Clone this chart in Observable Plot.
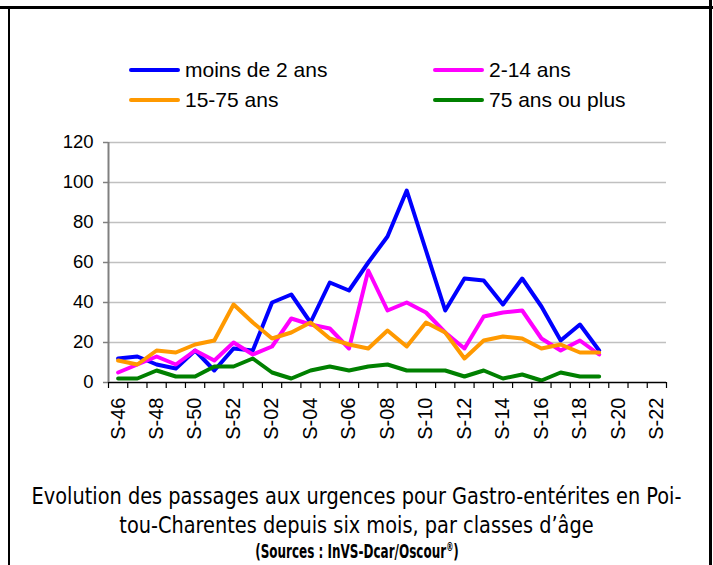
<!DOCTYPE html>
<html>
<head>
<meta charset="utf-8">
<script src="https://cdn.jsdelivr.net/npm/d3@7"></script>
<script src="https://cdn.jsdelivr.net/npm/@observablehq/plot@0.6"></script>
<style>
  html, body { margin: 0; padding: 0; background: #fff; }
  #wrap { position: relative; width: 713px; height: 565px; overflow: hidden; background: #fff; font-family: "Liberation Sans", Arial, sans-serif; }
  .bd { position: absolute; background: #000; }
  .leg { position: absolute; font-size: 21px; line-height: 21px; color: #000; white-space: nowrap; }
  .sw { position: absolute; height: 4px; border-radius: 2px; }
  #chart { position: absolute; left: 0; top: 120px; }
  #cap { position: absolute; left: 0; width: 713px; text-align: center; top: 482px; font-family: "Liberation Sans Narrow", "DejaVu Sans Condensed", sans-serif; font-size: 23px; line-height: 29px; color: #000; transform: scaleX(0.935); transform-origin: 356.5px 0; white-space: nowrap; }
  #src { position: absolute; left: 0; width: 713px; text-align: center; top: 541px; height: 21px; font-family: "Liberation Sans Narrow", "DejaVu Sans Condensed", sans-serif; font-weight: bold; font-size: 20px; line-height: 21px; transform: scaleX(0.667); transform-origin: 358px 0; white-space: nowrap; }
  #src sup { font-size: 12px; line-height: 0; vertical-align: 7px; }
</style>
</head>
<body>
<div id="wrap">
  <div class="bd" style="left:0;top:6px;width:713px;height:3px"></div>
  <div class="bd" style="left:8px;top:6px;width:2px;height:560px"></div>
  <div class="bd" style="left:709px;top:0;width:3px;height:565px"></div>
  <div id="legend"></div>
  <div id="chart"></div>
  <div id="cap">Evolution des passages aux urgences pour Gastro-entérites en Poi-<br>tou-Charentes depuis six mois, par classes d’âge</div>
  <div id="src">(Sources : InVS-Dcar/Oscour<sup>®</sup>)</div>
</div>
<script>
// Week categories (x axis)
const weeks = ["S-46","S-47","S-48","S-49","S-50","S-51","S-52",
  "S-01","S-02","S-03","S-04","S-05","S-06","S-07","S-08","S-09","S-10",
  "S-11","S-12","S-13","S-14","S-15","S-16","S-17","S-18","S-19","S-20","S-21","S-22"];

// Series names and colours
const seriesNames = ["moins de 2 ans", "2-14 ans", "15-75 ans", "75 ans ou plus"];
const seriesColors = ["#0000ff", "#ff00ff", "#ff9900", "#008000"];

// Values S-46 .. S-19
const moins2 = [12,13,9,7,16,6,17,16,40,44,30,50,46,60,73,96,66,36,52,51,39,52,38,21,29,16];
const ans2_14 = [5,9,13,9,16,11,20,14,18,32,29,27,17,56,36,40,35,25,17,33,35,36,22,16,21,14];
const ans15_75 = [11,9,16,15,19,21,39,30,22,25,30,22,19,17,26,18,30,25,12,21,23,22,17,19,15,15];
const ans75plus = [2,2,6,3,3,8,8,12,5,2,6,8,6,8,9,6,6,6,3,6,2,4,1,5,3,3];

const yTicks = [0,20,40,60,80,100,120];

const seriesValues = [moins2, ans2_14, ans15_75, ans75plus];
const rows = [];
seriesValues.forEach((vals, s) => vals.forEach((v, i) => rows.push({s: seriesNames[s], i, v})));

const xDomain = [-0.5, weeks.length - 0.5];
const boundaries = d3.range(weeks.length + 1).map(i => i - 0.5);
const labelTicks = d3.range(0, weeks.length, 2);

// Legend (HTML)
const legend = document.getElementById("legend");
const legPos = [[129, 61], [433, 61], [129, 91], [433, 91]];
[0, 1, 2, 3].forEach((s, k) => {
  const [lx, ly] = legPos[k];
  const sw = document.createElement("div");
  sw.className = "sw";
  sw.style.left = lx + "px"; sw.style.top = (ly + 7) + "px"; sw.style.width = "51px";
  sw.style.background = seriesColors[s];
  legend.appendChild(sw);
  const t = document.createElement("div");
  t.className = "leg";
  t.style.left = (lx + 56) + "px"; t.style.top = (ly - 2) + "px";
  t.textContent = seriesNames[s];
  legend.appendChild(t);
});

const plot = Plot.plot({
  width: 713,
  height: 350,
  marginTop: 22,
  marginBottom: 88,
  marginLeft: 108,
  marginRight: 47,
  style: {fontFamily: "'Liberation Sans', Arial, sans-serif", color: "#000", background: "transparent"},
  x: {type: "linear", domain: xDomain},
  y: {domain: [0, 120]},
  marks: [
    Plot.gridY(yTicks.filter(d => d > 0), {stroke: "#c0c0c0", strokeOpacity: 1, strokeWidth: 1.3}),
    Plot.axisY({ticks: yTicks, tickSize: 5, tickPadding: 10, fontSize: 18.5, stroke: "#808080", strokeWidth: 1.5, tickFormat: d => String(d), label: null}),
    Plot.axisX({ticks: boundaries, tickSize: 6, tickFormat: () => "", stroke: "#000", strokeWidth: 1.2, label: null}),
    Plot.axisX({ticks: labelTicks, tickSize: 0, tickPadding: 15, tickRotate: -90, fontSize: 20, tickFormat: i => weeks[i], label: null}),
    Plot.line(rows, {x: "i", y: "v", z: "s", stroke: d => seriesColors[seriesNames.indexOf(d.s)], strokeWidth: 4, strokeLinejoin: "round"}),
    Plot.ruleY([0], {stroke: "#000", strokeWidth: 1.5}),
    Plot.ruleX([xDomain[0]], {stroke: "#808080", strokeWidth: 2})
  ]
});
document.getElementById("chart").appendChild(plot);
</script>
</body>
</html>
